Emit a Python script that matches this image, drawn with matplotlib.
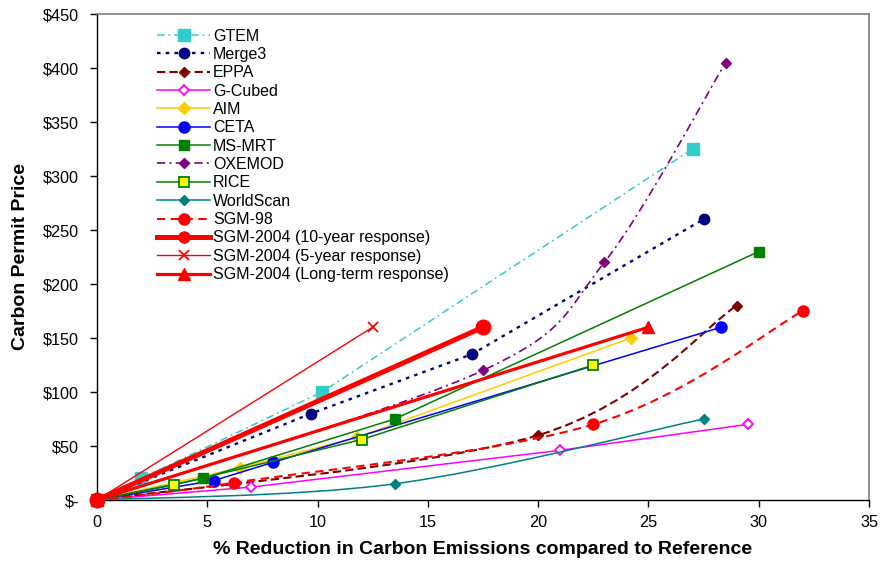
import numpy as np
import matplotlib
matplotlib.use("Agg")
import matplotlib.pyplot as plt
from matplotlib.path import Path
from matplotlib.patches import PathPatch
from matplotlib.lines import Line2D
from matplotlib.ticker import FuncFormatter

plt.rcParams['font.family'] = ['Liberation Sans', 'DejaVu Sans']

# data: (% reduction, $ per ton carbon)
gtem_x = [0, 2.0, 10.2, 27.0]
gtem_y = [0, 20, 100, 325]
merge3_x = [0, 9.7, 17.0, 27.5]
merge3_y = [0, 80, 135, 260]
eppa_x = [0, 20.0, 29.0]
eppa_y = [0, 60, 180]
gcubed_x = [0, 7.0, 21.0, 29.5]
gcubed_y = [0, 12, 46, 70]
aim_x = [0, 6.5, 11.8, 24.2]
aim_y = [0, 30, 58, 150]
ceta_x = [0, 5.3, 8.0, 28.3]
ceta_y = [0, 18, 35, 160]
msmrt_x = [0, 4.8, 13.5, 30.0]
msmrt_y = [0, 20, 75, 230]
oxemod_x = [0, 17.5, 23.0, 28.5]
oxemod_y = [0, 120, 220, 405]
rice_x = [0, 3.5, 12.0, 22.5]
rice_y = [0, 14, 56, 125]
worldscan_x = [0, 13.5, 27.5]
worldscan_y = [0, 15, 75]
sgm98_x = [0, 6.2, 22.5, 32.0]
sgm98_y = [0, 16, 70, 175]
sgm10_x = [0, 17.5]
sgm10_y = [0, 160]
sgm5_x = [0, 12.5]
sgm5_y = [0, 160]
sgmlt_x = [0, 25.0]
sgmlt_y = [0, 160]


def smooth_path(x, y):
    """Excel-like smoothed line: cubic Bezier through every point"""
    pts = np.column_stack([x, y]).astype(float)
    n = len(pts)
    verts = [pts[0]]
    codes = [Path.MOVETO]
    for i in range(n - 1):
        p0 = pts[max(i - 1, 0)]
        p1 = pts[i]
        p2 = pts[i + 1]
        p3 = pts[min(i + 2, n - 1)]
        verts += [p1 + (p2 - p0) / 6, p2 - (p3 - p1) / 6, p2]
        codes += [Path.CURVE4] * 3
    return Path(verts, codes)


series = [
    # label, x, y, color, linestyle, lw, marker, ms, face, smooth
    ('GTEM', gtem_x, gtem_y, '#33CCCC', (0, (5, 2.5, 1.2, 2.5)), 1.1, 's', 8, '#33CCCC', False),
    ('Merge3', merge3_x, merge3_y, '#000080', (0, (1.5, 2.2)), 1.7, 'o', 7.5, '#000080', False),
    ('EPPA', eppa_x, eppa_y, '#800000', (0, (4, 2)), 1.5, 'D', 5.5, '#800000', True),
    ('G-Cubed', gcubed_x, gcubed_y, '#FF00FF', '-', 1.1, 'D', 5.5, 'white', False),
    ('AIM', aim_x, aim_y, '#FFCC00', '-', 1.1, 'D', 6, '#FFCC00', False),
    ('CETA', ceta_x, ceta_y, '#0000FF', '-', 1.1, 'o', 8, '#0000FF', False),
    ('MS-MRT', msmrt_x, msmrt_y, '#008000', '-', 1.1, 's', 7.5, '#008000', False),
    ('OXEMOD', oxemod_x, oxemod_y, '#800080', (0, (5, 2.5, 1.2, 2.5)), 1.2, 'D', 5.5, '#800080', True),
    ('RICE', rice_x, rice_y, '#008000', '-', 1.1, 's', 7.5, '#FFFF00', False),
    ('WorldScan', worldscan_x, worldscan_y, '#008080', '-', 1.1, 'D', 5.5, '#008080', True),
    ('SGM-98', sgm98_x, sgm98_y, '#FF0000', (0, (4, 2.6)), 1.5, 'o', 8, '#FF0000', True),
    ('SGM-2004 (10-year response)', sgm10_x, sgm10_y, '#FF0000', '-', 3.6, 'o', 10.5, '#FF0000', False),
    ('SGM-2004 (5-year response)', sgm5_x, sgm5_y, '#FF0000', '-', 1.0, 'x', 7, '#FF0000', False),
    ('SGM-2004 (Long-term response)', sgmlt_x, sgmlt_y, '#FF0000', '-', 2.3, '^', 9, '#FF0000', False),
]

fig = plt.figure(figsize=(8.81, 5.65), dpi=100)
ax = fig.add_axes([97 / 881, 65 / 565, 772 / 881, 486 / 565])

handles = []
for i, (label, x, y, color, ls, lw, mk, ms, face, smooth) in enumerate(series):
    z = 2 + i * 0.1
    mew = 1.3 if face != color or mk == 'x' else 1.0
    if smooth:
        ax.add_patch(PathPatch(smooth_path(x, y), fill=False, edgecolor=color,
                               linewidth=lw, linestyle=ls, zorder=z))
        ax.plot(x, y, linestyle='none', marker=mk, markersize=ms, color=color,
                markerfacecolor=face, markeredgecolor=color, clip_on=False, zorder=z)
    else:
        ax.plot(x, y, linestyle=ls, linewidth=lw, marker=mk, markersize=ms, color=color,
                markerfacecolor=face, markeredgecolor=color, markeredgewidth=mew,
                clip_on=False, zorder=z)
    handles.append(Line2D([], [], linestyle=ls, linewidth=lw, marker=mk, color=color,
                          markersize=min(ms, 8), markerfacecolor=face, markeredgecolor=color,
                          markeredgewidth=mew, label=label))

ax.set_xlim(0, 35)
ax.set_ylim(0, 450)
ax.set_xticks(np.arange(0, 36, 5))
ax.set_yticks(np.arange(0, 451, 50))
ax.yaxis.set_major_formatter(FuncFormatter(lambda v, p: '$-' if v == 0 else f'${v:.0f}'))
ax.tick_params(direction='out', length=5, width=1, labelsize=11.7, colors='black')
ax.tick_params(axis='x', pad=6)
ax.tick_params(axis='y', pad=8)

for side in ('top', 'right'):
    ax.spines[side].set_color('#808080')
    ax.spines[side].set_linewidth(1.2)
for side in ('left', 'bottom'):
    ax.spines[side].set_color('black')
    ax.spines[side].set_linewidth(1.0)

ax.set_xlabel('% Reduction in Carbon Emissions compared to Reference',
              fontsize=14, fontweight='bold', labelpad=8)
ax.set_ylabel('Carbon Permit Price', fontsize=14, fontweight='bold', labelpad=10)

ax.legend(handles=handles, loc='upper left', bbox_to_anchor=(0.078, 0.97),
          frameon=False, fontsize=11.5, handlelength=3.3, handletextpad=0.2,
          labelspacing=0.21, borderpad=0, borderaxespad=0)

fig.savefig('out.png', dpi=100, facecolor='white')
